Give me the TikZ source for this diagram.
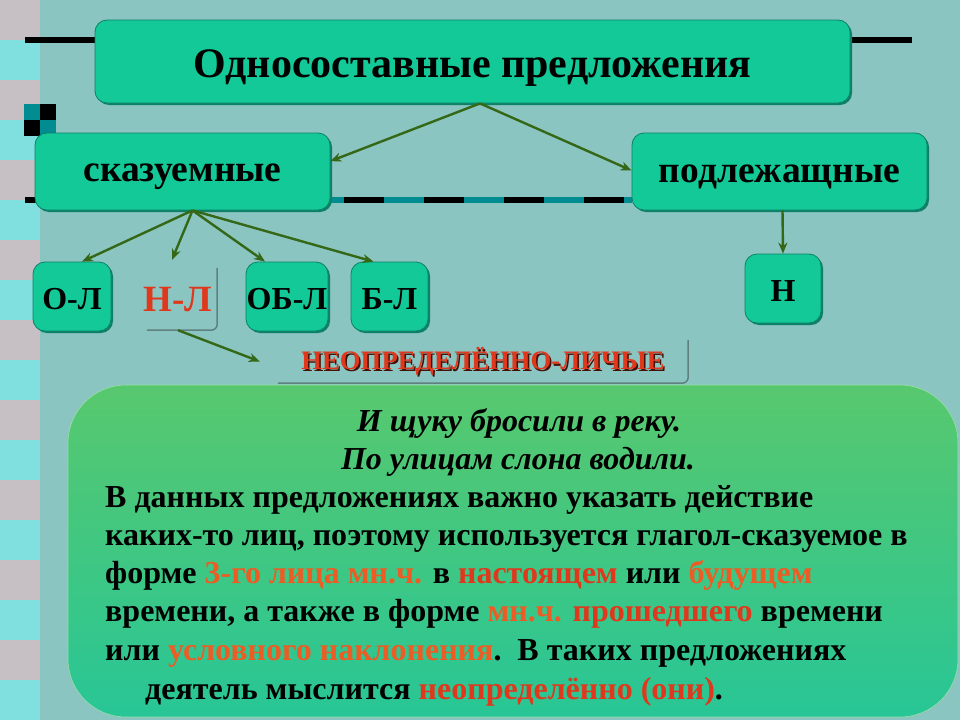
\documentclass[tikz,border=0pt]{standalone}
\usepackage{fontspec}
\setmainfont{Liberation Serif}
\usetikzlibrary{arrows.meta,shadows}
\definecolor{bgc}{RGB}{138,197,193}
\definecolor{boxc}{RGB}{19,201,152}
\definecolor{boxd}{RGB}{14,128,104}
\definecolor{grayc}{RGB}{198,192,196}
\definecolor{cyanc}{RGB}{128,224,224}
\definecolor{tealc}{RGB}{0,140,145}
\definecolor{arrc}{RGB}{52,104,22}
\definecolor{redc}{RGB}{224,56,28}
\definecolor{orgc}{RGB}{236,92,36}
\definecolor{pantop}{RGB}{88,200,110}
\definecolor{panbot}{RGB}{40,198,150}
\definecolor{edgec}{RGB}{96,128,128}
\begin{document}
\begin{tikzpicture}[x=1pt,y=-1pt,
  box/.style={rounded corners=12pt, fill=boxc, draw=boxd, line width=0.8pt,
    drop shadow={shadow xshift=2pt, shadow yshift=-2pt, fill=boxd, opacity=1},
    inner sep=0pt},
  plain/.style={inner sep=0pt, font=\bfseries},
  arr/.style={draw=arrc, line width=2.4pt, -{Stealth[length=11pt,width=9pt]}},
  line/.style={inner sep=0pt, anchor=base west, font=\fontsize{32}{36}\selectfont\bfseries},
  big/.style={inner sep=0pt, font=\fontsize{37.5}{42}\selectfont\bfseries},
  small/.style={inner sep=0pt, font=\fontsize{32}{36}\selectfont\bfseries}]
\useasboundingbox (0,0) rectangle (960,720);
\fill[bgc] (0,0) rectangle (960,720);
\foreach \i in {0,...,8} {
  \fill[grayc] (0,80*\i) rectangle (40,80*\i+40);
  \fill[cyanc] (0,80*\i+40) rectangle (40,80*\i+80);
}
% decorative black lines
\fill[black] (25,37) rectangle (100,43);
\fill[black] (845,37) rectangle (912,43);
\fill[black] (25,197) rectangle (40,203);
\fill[tealc] (330,197) rectangle (632,203);
\foreach \x in {344,424,504,584} { \fill[black] (\x,197) rectangle (\x+40,203); }
% checker squares
\fill[tealc] (24,104) rectangle (40,120);
\fill[black] (40,104) rectangle (56,120);
\fill[black] (24,120) rectangle (40,136);
\fill[tealc] (40,120) rectangle (56,136);

% boxes
\node[box, minimum width=755pt, minimum height=83pt] (T) at (472.5,61.5) {};
\node[plain, font=\fontsize{42}{46}\selectfont\bfseries] (Tt) at ([yshift=-7pt]T.center) {Односоставные предложения};
\node[box, minimum width=295pt, minimum height=77pt] (S) at (182.5,171.5) {};
\node[big] (St) at ([yshift=-5pt]S.center) {сказуемные};
\node[box, minimum width=295pt, minimum height=77pt] (P) at (779.5,171.5) {};
\node[big] (Pt) at ([yshift=-5pt]P.center) {подлежащные};
\node[box, minimum width=78pt, minimum height=69pt] (OL) at (72,296.5) {};
\node[small] (OLt) at ([yshift=-3pt]OL.center) {О-Л};
\node[plain, minimum width=70pt, minimum height=62pt] (NL) at (182,299) {};
\node[plain, font=\fontsize{37}{40}\selectfont\bfseries, text=redc] (NLt) at ([xshift=-4pt,yshift=-1pt]NL.center) {Н-Л};
\node[box, minimum width=82pt, minimum height=69pt] (OBL) at (287,296.5) {};
\node[small] (OBLt) at ([yshift=-3pt]OBL.center) {ОБ-Л};
\node[box, minimum width=77pt, minimum height=69pt] (BL) at (389.5,296.5) {};
\node[small] (BLt) at ([yshift=-3pt]BL.center) {Б-Л};
\node[box, minimum width=76pt, minimum height=69pt] (N) at (783,288.5) {};
\node[small] (Nt) at ([yshift=-3pt]N.center) {Н};
\draw[edgec, line width=1.5pt, rounded corners=6pt] (NL.north east) -- (NL.south east) -- (NL.south west);
\node[plain, minimum width=410pt, minimum height=43pt] (NEO) at (483,361.5) {};
\draw[edgec, line width=1.5pt, rounded corners=6pt] (NEO.north east) -- (NEO.south east) -- (NEO.south west);
\node[plain, font=\fontsize{26.7}{30}\selectfont\bfseries, text=black!70!redc] (NEOs) at ([xshift=1.5pt,yshift=-1.5pt]NEO.center) {НЕОПРЕДЕЛЁННО-ЛИЧЫЕ};
\node[plain, font=\fontsize{26.7}{30}\selectfont\bfseries, text=redc] (NEOT) at (NEO.center) {НЕОПРЕДЕЛЁННО-ЛИЧЫЕ};

% arrows
\draw[arr] ([xshift=7.5pt]T.south) -- (S.4);
\draw[arr] ([xshift=7.5pt]T.south) -- ([yshift=1pt]P.west);
\coordinate (sk) at ([xshift=10pt]S.south);
\draw[arr] (sk) -- ([xshift=10pt]OL.north);
\draw[arr] (sk) -- ([xshift=-10pt,yshift=8pt]NL.north);
\draw[arr] (sk) -- ([xshift=-22pt]OBL.north);
\draw[arr] (sk) -- ([xshift=-16pt]BL.north);
\draw[arr] ([xshift=3pt]P.south) -- (N.north);
\draw[arr] ([xshift=-4pt]NL.south) -- ([xshift=-18pt]NEO.west);

% panel
\shade[top color=pantop, bottom color=panbot, rounded corners=58pt] (68,385) rectangle (958,717);
\draw[white!40!pantop, line width=0.6pt, rounded corners=58pt] (68,385) rectangle (958,717);

\node[line, anchor=base, font=\fontsize{32}{36}\selectfont\bfseries\itshape] (L1) at (519,431) {И щуку бросили в реку.};
\node[line, anchor=base, font=\fontsize{32}{36}\selectfont\bfseries\itshape] (L2) at (518,469) {По улицам слона водили.};
\node[line] (L3) at (105,507) {В данных предложениях важно указать действие};
\node[line] (L4) at (105,545) {каких-то лиц, поэтому используется глагол-сказуемое в};
\node[line] (L5) at (105,583) {форме \textcolor{orgc}{3-го лица мн.ч.} в \textcolor{redc}{настоящем} или \textcolor{orgc}{будущем}};
\node[line] (L6) at (105,621) {времени, а также в форме \textcolor{orgc}{мн.ч.} \textcolor{redc}{прошедшего} времени};
\node[line] (L7) at (105,660) {или \textcolor{orgc}{условного наклонения}.\ \ В таких предложениях};
\node[line] (L8) at (145,699) {деятель мыслится \textcolor{redc}{неопределённо (они)}.};
\end{tikzpicture}
\end{document}
